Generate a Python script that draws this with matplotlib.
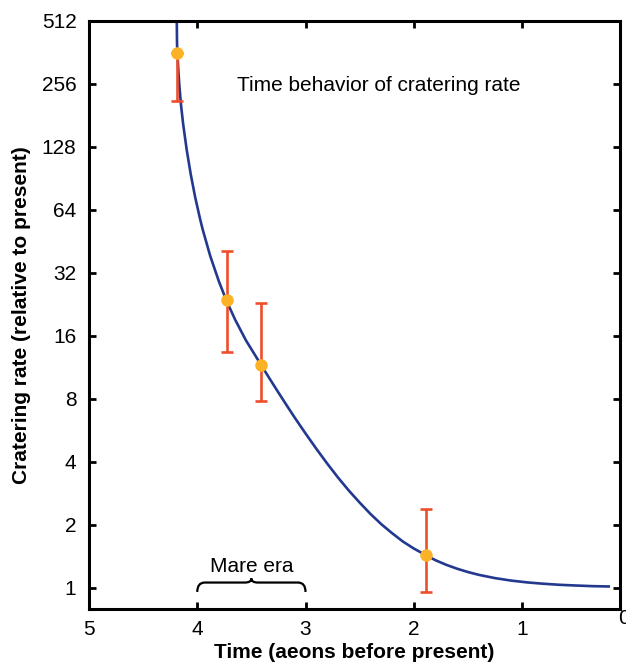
import matplotlib
matplotlib.use("Agg")
import matplotlib.pyplot as plt
from matplotlib.path import Path
from matplotlib.patches import PathPatch
import matplotlib.transforms as mtransforms

plt.rcParams['font.family'] = ['Liberation Sans', 'DejaVu Sans']

# Model curve (time in aeons, rate relative to present)
curve_t = [4.189, 4.187, 4.184, 4.175, 4.165, 4.150, 4.130, 4.097, 4.060, 4.020,
           3.975, 3.950, 3.880, 3.800, 3.728, 3.650, 3.550, 3.410, 3.330, 3.250,
           3.180, 3.100, 3.000, 2.900, 2.800, 2.700, 2.600, 2.500, 2.400, 2.300,
           2.200, 2.100, 2.000, 1.890, 1.800, 1.700, 1.600, 1.500, 1.400, 1.250,
           1.100, 0.950, 0.800, 0.650, 0.500, 0.350, 0.187]
curve_r = [512, 401, 365, 299, 250, 203, 164, 123.5, 94.6, 73.9,
           58.2, 51.6, 38.5, 29.1, 23.4, 19.1, 15.2, 11.6, 9.95, 8.56,
           7.52, 6.50, 5.46, 4.61, 3.92, 3.36, 2.91, 2.55, 2.25, 2.01,
           1.82, 1.66, 1.538, 1.43, 1.352, 1.285, 1.231, 1.187, 1.151, 1.110,
           1.080, 1.0585, 1.043, 1.031, 1.023, 1.016, 1.012]

# Measured points with error bars
pt_t = [4.184, 3.722, 3.408, 1.887]
pt_r = [360, 23.7, 11.6, 1.435]
err_lo = [212, 13.4, 7.8, 0.955]
err_hi = [360, 40.7, 23.0, 2.38]

xticks = [5, 4, 3, 2, 1]
yticks = [1, 2, 4, 8, 16, 32, 64, 128, 256, 512]

fig = plt.figure(figsize=(6.26, 6.66), dpi=100)
ax = fig.add_axes([89/626, 57/666, 531/626, 588/666])

blue = '#22398f'
red = '#ee4e2c'
gold = '#fbb226'

ax.plot(curve_t, curve_r, color=blue, lw=1.9, zorder=2, solid_capstyle='butt',
        solid_joinstyle='round')
yerr = [[r - lo for r, lo in zip(pt_r, err_lo)], [hi - r for r, hi in zip(pt_r, err_hi)]]
ax.errorbar(pt_t, pt_r, yerr=yerr, fmt='none', ecolor=red, elinewidth=1.9,
            capsize=4.5, capthick=1.9, zorder=3)
ax.plot(pt_t, pt_r, 'o', color=gold, ms=9, mec='none', zorder=4)

ax.set_yscale('log', base=2)
ax.set_xlim(5, 0.095)
ax.set_ylim(0.79, 512)
ax.set_xticks(xticks)
ax.set_xticklabels([str(v) for v in xticks])
ax.set_yticks(yticks)
ax.set_yticklabels([str(v) for v in yticks])
ax.minorticks_off()

for s in ax.spines.values():
    s.set_linewidth(2.2)
ax.tick_params(direction='in', length=5, width=2, labelsize=15,
               top=True, right=True, pad=9)
ax.tick_params(axis='x', pad=8)

# tick label at 0 (at the right edge, partly cut as in the original)
trans_x = mtransforms.blended_transform_factory(ax.transData, ax.transAxes)
ax.text(0.06, 0, '0', transform=trans_x, ha='center', va='top', fontsize=15,
        clip_on=False)

ax.set_xlabel('Time (aeons before present)', fontsize=15, fontweight='bold', labelpad=3)
ax.set_ylabel('Cratering rate (relative to present)', fontsize=15, fontweight='bold', labelpad=8)

ax.text(3.633, 252, 'Time behavior of cratering rate', fontsize=15,
        ha='left', va='center')

# Mare era brace
ax.text(3.5, 0.072, 'Mare era', transform=trans_x, fontsize=15, ha='center', va='center')
x0, x1 = 4.0, 3.0
xm = 3.5
yb, yh, yt = 0.029, 0.045, 0.052
verts = [(x0, yb), (x0, yh), (x0 - 0.07, yh),
         (xm + 0.06, yh), (xm, yh), (xm, yt),
         (xm, yh), (xm - 0.06, yh),
         (x1 + 0.07, yh), (x1, yh), (x1, yb)]
codes = [Path.MOVETO, Path.CURVE3, Path.CURVE3,
         Path.LINETO, Path.CURVE3, Path.CURVE3,
         Path.CURVE3, Path.CURVE3,
         Path.LINETO, Path.CURVE3, Path.CURVE3]
brace = PathPatch(Path(verts, codes), transform=trans_x, fill=False,
                  edgecolor='black', lw=1.6, clip_on=False)
ax.add_patch(brace)

fig.savefig('out.png', dpi=100)
